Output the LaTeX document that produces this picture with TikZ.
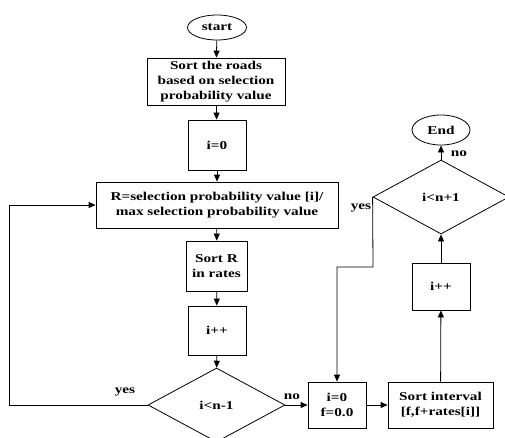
\documentclass[tikz,border=0pt]{standalone}
\usepackage{fontspec}
\setmainfont[FakeStretch=1.27]{Liberation Serif}
\usetikzlibrary{shapes.geometric,arrows.meta}
\begin{document}
\begin{tikzpicture}[x=1pt,y=-1pt,
  font=\fontsize{12}{15}\selectfont\bfseries,
  base/.style={draw,line width=0.8pt,inner sep=0pt,align=center},
  boxnode/.style={base,rectangle},
  oval/.style={base,ellipse},
  decision/.style={base,diamond},
  arr/.style={line width=0.8pt,-{Triangle[length=7pt,width=6pt]}},
  line/.style={line width=0.8pt},
  lbl/.style={inner sep=0pt}]
\useasboundingbox (0,0) rectangle (505,437);
\clip (0,0) rectangle (505,437);
\node[oval,minimum width=59pt,minimum height=25pt] (start) at (217,27.5) {start};
\node[boxnode,minimum width=138pt,minimum height=47pt] (sort) at (216,81.5) {Sort the roads\\based on selection\\probability value};
\node[boxnode,minimum width=58pt,minimum height=50pt] (i0) at (217,145) {i=0};
\node[boxnode,minimum width=242pt,minimum height=46pt] (R) at (217,205) {R=selection probability value [i]/\\max selection probability value};
\node[boxnode,minimum width=61pt,minimum height=50pt] (sortR) at (216.5,266) {Sort R\\in rates};
\node[boxnode,minimum width=58pt,minimum height=49pt] (inc1) at (217,330.5) {i++};
\node[decision,minimum width=137pt,minimum height=74pt] (d1) at (216.5,405) {i<n-1};
\node[boxnode,minimum width=58pt,minimum height=46pt] (init2) at (337,405) {i=0\\f=0.0};
\node[boxnode,minimum width=105pt,minimum height=46pt] (intv) at (440.5,405) {Sort interval\\{[f,f+rates[i]]}};
\node[boxnode,minimum width=58pt,minimum height=47pt] (inc2) at (441,286.5) {i++};
\node[decision,minimum width=136pt,minimum height=74pt] (d2) at (441,197) {i<n+1};
\node[oval,minimum width=58pt,minimum height=30pt] (end) at (441,130) {End};
\coordinate (L) at (9,405);
\coordinate (Y1) at (373,267);
\coordinate (Y2) at (337,267);
\draw[arr] (start) -- (sort);
\draw[arr] (sort) -- (i0);
\draw[arr] (i0) -- (R);
\draw[arr] (R) -- (sortR);
\draw[arr] (sortR) -- (inc1);
\draw[arr] (inc1) -- (d1);
\draw[arr] (d1.west) -- (L) |- (R.west);
\draw[arr] (d1.east) -- (init2.west);
\draw[arr] (init2) -- (intv);
\draw[arr] (intv) -- (inc2);
\draw[arr] (inc2) -- (d2);
\draw[arr] (d2.north) -- (end);
\draw[arr] (d2.west) -- (Y1) -- (Y2) -- (init2.north);
\node[lbl] (yes1) at (125,392) {yes};
\node[lbl] (no1) at (292,397) {no};
\node[lbl] (yes2) at (361,208) {yes};
\node[lbl] (no2) at (459,154) {no};
\end{tikzpicture}
\end{document}
